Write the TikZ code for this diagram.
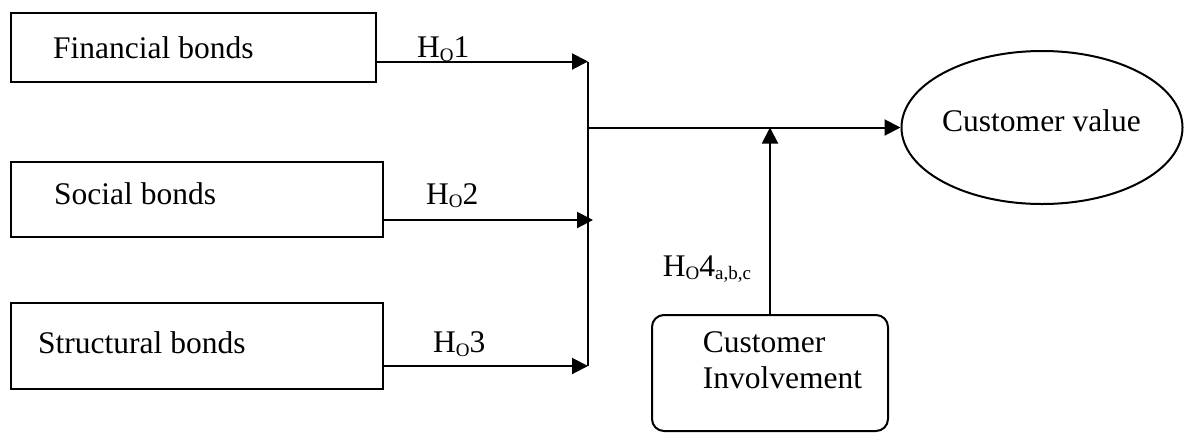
\documentclass[tikz,border=0pt]{standalone}
\usepackage{fontspec}
\setmainfont{Liberation Serif}
\usetikzlibrary{arrows.meta,shapes.geometric}
\newcommand\subtxt[1]{\raisebox{-3.5pt}{\fontsize{19}{19}\selectfont #1}}
\begin{document}
\begin{tikzpicture}[x=1pt,y=-1pt,
  every node/.style={font=\fontsize{31.5}{36}\selectfont, inner sep=0pt},
  box/.style={draw, line width=2pt, rectangle},
  rbox/.style={draw, line width=2pt, rectangle, rounded corners=12pt},
  oval/.style={draw, line width=2pt, ellipse},
  conn/.style={line width=2pt},
  arr/.style={line width=2pt, -{Triangle[length=16pt,width=16pt]}},
  lbl/.style={anchor=base west}]
\useasboundingbox (0,0) rectangle (1185,432);
% boxes
\node[box, minimum width=365pt, minimum height=69pt] (fin) at (193.5,47.8) {};
\node[box, minimum width=372pt, minimum height=75pt] (soc) at (196.8,199.2) {};
\node[box, minimum width=372pt, minimum height=85.7pt] (str) at (196.8,346.2) {};
\node[lbl] (fint) at (53,58) {Financial bonds};
\node[lbl] (soct) at (54,204) {Social bonds};
\node[lbl] (strt) at (38,353) {Structural bonds};
% outcome ellipse
\node[oval, minimum width=281pt, minimum height=153pt] (cv) at (1042,127.5) {};
\node[anchor=base] (cvt) at (1041.5,131) {Customer value};
% moderator box
\node[rbox, minimum width=236pt, minimum height=116pt] (ci) at (770,373) {};
\node[lbl] (cit1) at (702.7,352.7) {Customer};
\node[lbl] (cit2) at (702.7,388) {Involvement};
% junctions
\coordinate (j1) at (588,61.5);
\coordinate (j2) at (593,220);
\coordinate (j3) at (588,366);
\coordinate (jtop) at (588,62);
\coordinate (jm) at (588,127.5);
\coordinate (jci) at (770,127.5);
% connectors
\draw[arr] (fin.east |- j1) -- (j1);
\draw[arr] (soc.east |- j2) -- (j2);
\draw[arr] (str.east |- j3) -- (j3);
\draw[conn] (jtop) -- (j3);
\draw[arr] (jm) -- (cv.west);
\draw[arr] (ci.north) -- (jci);
% labels
\node[lbl] (h1) at (417,57.7) {H\subtxt{O}1};
\node[lbl] (h2) at (426,204) {H\subtxt{O}2};
\node[lbl] (h3) at (433,352.7) {H\subtxt{O}3};
\node[lbl] (h4) at (662.7,276) {H\subtxt{O}4\subtxt{a,b,c}};
\end{tikzpicture}
\end{document}
